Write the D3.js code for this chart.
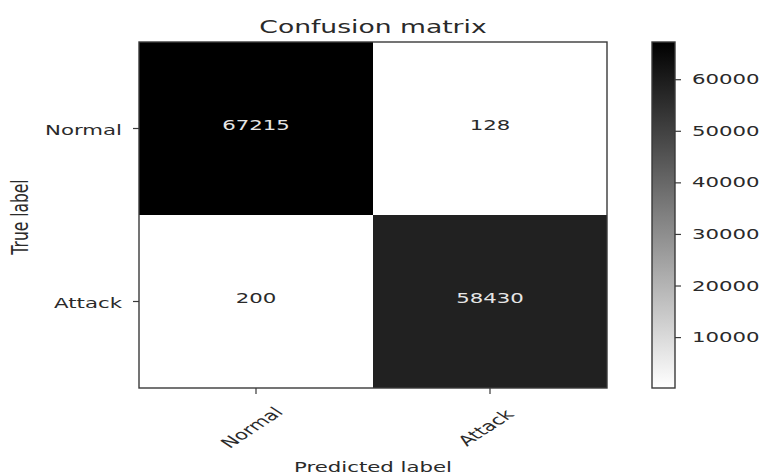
<!DOCTYPE html>
<html>
<head>
<meta charset="utf-8">
<script src="https://cdn.jsdelivr.net/npm/d3@7"></script>
<style>
  html, body { margin: 0; padding: 0; background: #fff; }
  svg { display: block; font-family: "DejaVu Sans", sans-serif; }
</style>
</head>
<body>
<svg id="chart" width="759" height="475"></svg>
<script>
// ---- data ----
const classes = ["Normal", "Attack"];
const normalRow = [67215, 128];
const attackRow = [200, 58430];
const colorbarTicks = [10000, 20000, 30000, 40000, 50000, 60000];
const chartTitle = "Confusion matrix";
const xTitle = "Predicted label";
const yTitle = "True label";

// ---- layout ----
const W = 759, H = 475;
const plot = { left: 139, right: 607, top: 42, bottom: 388 };
const cbar = { left: 652, right: 675 };
const SX = 1.52; // horizontal stretch of glyphs in reference
const ink = "#2a2a2a";

const rows = [normalRow, attackRow];
const cells = [];
rows.forEach((r, i) => r.forEach((v, j) => cells.push({ t: classes[i], p: classes[j], v })));
const allVals = cells.map(d => d.v);
const vmin = d3.min(allVals), vmax = d3.max(allVals);

const svg = d3.select("#chart");

const x = d3.scaleBand().domain(classes).range([plot.left, plot.right]);
const y = d3.scaleBand().domain(classes).range([plot.top, plot.bottom]);
const color = d3.scaleLinear().domain([vmin, vmax]).range(["#ffffff", "#000000"]);

function stext(g, px, py, str, size, anchor, rot, fill) {
  return g.append("text")
    .attr("transform", `translate(${px},${py}) scale(${SX},1)` + (rot ? ` rotate(${rot})` : ""))
    .attr("text-anchor", anchor)
    .attr("font-size", size)
    .attr("fill", fill || ink)
    .text(str);
}

// cells
svg.append("g").selectAll("rect").data(cells).join("rect")
  .attr("x", d => x(d.p)).attr("y", d => y(d.t))
  .attr("width", x.bandwidth()).attr("height", y.bandwidth())
  .attr("fill", d => color(d.v));

// annotations
const ann = svg.append("g");
cells.forEach(d => {
  stext(ann, x(d.p) + x.bandwidth() / 2, y(d.t) + y.bandwidth() / 2 + 1, String(d.v), 14, "middle", 0,
    d.v > vmax / 2 ? "#e6e6e6" : ink);
});

// frame
svg.append("rect")
  .attr("x", plot.left).attr("y", plot.top)
  .attr("width", plot.right - plot.left).attr("height", plot.bottom - plot.top)
  .attr("fill", "none").attr("stroke", "#3a3a3a").attr("stroke-width", 1.4);

// y axis ticks
const yAxis = svg.append("g").attr("transform", `translate(${plot.left},0)`)
  .call(d3.axisLeft(y).tickSize(6).tickFormat(""));
yAxis.select(".domain").remove();
yAxis.selectAll("line").attr("stroke", "#3a3a3a").attr("stroke-width", 1.2);
const yl = svg.append("g");
classes.forEach(c => stext(yl, plot.left - 17, y(c) + y.bandwidth() / 2 + 6, c, 14, "end", 0));

// x axis ticks
const xAxis = svg.append("g").attr("transform", `translate(0,${plot.bottom})`)
  .call(d3.axisBottom(x).tickSize(6).tickFormat(""));
xAxis.select(".domain").remove();
xAxis.selectAll("line").attr("stroke", "#3a3a3a").attr("stroke-width", 1.2);
const xl = svg.append("g");
classes.forEach(c => stext(xl, x(c) + x.bandwidth() / 2 + 1, 431, c, 14, "middle", -45));

// titles
stext(svg, (plot.left + plot.right) / 2, 33, chartTitle, 17.5, "middle", 0);
stext(svg, (plot.left + plot.right) / 2, 472, xTitle, 14, "middle", 0);
stext(svg, 28, 217, yTitle, 15.5, "middle", -90);

// colorbar
const defs = svg.append("defs");
const grad = defs.append("linearGradient").attr("id", "cbgrad")
  .attr("x1", 0).attr("y1", 1).attr("x2", 0).attr("y2", 0);
d3.range(0, 1.0001, 0.1).forEach(t => {
  grad.append("stop").attr("offset", t).attr("stop-color", color(vmin + t * (vmax - vmin)));
});
const cy = d3.scaleLinear().domain([vmin, vmax]).range([plot.bottom, plot.top]);
svg.append("rect")
  .attr("x", cbar.left).attr("y", plot.top)
  .attr("width", cbar.right - cbar.left).attr("height", plot.bottom - plot.top)
  .attr("fill", "url(#cbgrad)").attr("stroke", "#3a3a3a").attr("stroke-width", 1.4);
const cAxis = svg.append("g").attr("transform", `translate(${cbar.right},0)`)
  .call(d3.axisRight(cy).tickValues(colorbarTicks).tickSize(6).tickFormat(""));
cAxis.select(".domain").remove();
cAxis.selectAll("line").attr("stroke", "#3a3a3a").attr("stroke-width", 1.2);
const cl = svg.append("g");
colorbarTicks.forEach(v => stext(cl, cbar.right + 17, cy(v) + 5, String(v), 14, "start", 0));
</script>
</body>
</html>
